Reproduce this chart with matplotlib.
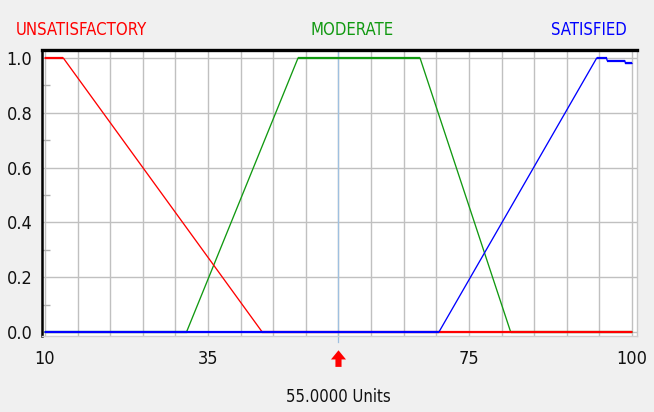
import numpy as np
import matplotlib
matplotlib.use('Agg')
import matplotlib.pyplot as plt
import matplotlib.transforms as mtransforms

# membership functions
x_unsat = [10, 12.8, 43.3, 100]
y_unsat = [1, 1, 0, 0]

x_mod = [10, 31.7, 48.8, 67.5, 81.4, 100]
y_mod = [0, 0, 1, 1, 0, 0]

x_sat = [10, 70.4, 94.6, 96.1, 96.2, 98.9, 99.0, 100]
y_sat = [0, 0, 1, 1, 0.99, 0.99, 0.98, 0.98]

labels = ['UNSATISFACTORY', 'MODERATE', 'SATISFIED']
colors = ['#ff0000', '#119911', '#0000ff']

x_ticks = [10, 35, 75, 100]
y_ticks = [0.0, 0.2, 0.4, 0.6, 0.8, 1.0]
crisp_value = 55.0
units = 'Units'

plt.rcParams['font.family'] = ['DejaVu Sans Condensed', 'Liberation Sans Narrow', 'DejaVu Sans']
plt.rcParams['font.stretch'] = 'condensed'

fig = plt.figure(figsize=(6.54, 4.12), dpi=100, facecolor='#f0f0f0')
ax = fig.add_axes([42 / 654, 1 - 336 / 412, 595 / 654, 286 / 412])
ax.set_facecolor('white')

ax.set_xlim(9.54, 100.77)
ax.set_ylim(-0.0146, 1.029)

# grid
for gx in np.arange(10, 101, 5):
    ax.axvline(gx, color='#c0c0c0', lw=1.0, zorder=0)
for gy in y_ticks:
    ax.axhline(gy, color='#c0c0c0', lw=1.0, zorder=0)

# curves: thin slopes, thicker flat parts
order = [(x_mod, y_mod, colors[1]), (x_unsat, y_unsat, colors[0]), (x_sat, y_sat, colors[2])]
z = 2
for xs, ys, c in order:
    ax.plot(xs, ys, color=c, lw=0.95, zorder=z)
    for i in range(len(xs) - 1):
        if ys[i] == ys[i + 1]:
            ax.plot(xs[i:i + 2], ys[i:i + 2], color=c, lw=1.6, zorder=z,
                    solid_capstyle='butt')
    z += 1

# crisp input marker
blend = mtransforms.blended_transform_factory(ax.transData, ax.transAxes)
ax.plot([crisp_value, crisp_value], [1.0, -0.021], transform=blend,
        color='#9ec0e0', lw=0.9, clip_on=False, zorder=1)
ax.annotate('', xy=(crisp_value, -0.05), xytext=(crisp_value, -0.108),
            xycoords=blend, textcoords=blend,
            arrowprops=dict(arrowstyle='simple,head_width=0.54,head_length=0.33,tail_width=0.22',
                            fc='red', ec='none', mutation_scale=20,
                            shrinkA=0, shrinkB=0))
ax.text(crisp_value, -0.215, '%.4f %s' % (crisp_value, units), transform=blend,
        ha='center', va='center', fontsize=12, color='#111111')

# ticks
ax.set_xticks(x_ticks)
ax.set_xticklabels([str(t) for t in x_ticks])
ax.set_yticks(y_ticks)
ax.set_yticklabels(['%.1f' % t for t in y_ticks])
ax.set_yticks(np.arange(0.1, 1.0, 0.2), minor=True)
ax.tick_params(axis='x', which='both', length=0, pad=10, labelsize=13, colors='#111111')
ax.tick_params(axis='y', which='major', length=0, pad=7, labelsize=13, colors='#111111')
ax.tick_params(axis='y', which='minor', direction='in', length=6, width=1,
               color='#b0b0b0')

# frame
ax.spines['left'].set_color('black')
ax.spines['left'].set_linewidth(1.8)
ax.spines['top'].set_color('black')
ax.spines['top'].set_linewidth(2.4)
ax.spines['right'].set_color('#c8c8c8')
ax.spines['bottom'].set_color('#d0d0d0')
ax.spines['right'].set_linewidth(1.0)
ax.spines['bottom'].set_linewidth(1.0)

# term names above the plot
fig.text(16 / 654, 1 - 30 / 412, labels[0], color=colors[0], fontsize=12,
         ha='left', va='center')
fig.text(352 / 654, 1 - 30 / 412, labels[1], color=colors[1], fontsize=12,
         ha='center', va='center')
fig.text(627 / 654, 1 - 30 / 412, labels[2], color=colors[2], fontsize=12,
         ha='right', va='center')

fig.savefig('out.png', dpi=100, facecolor=fig.get_facecolor())
